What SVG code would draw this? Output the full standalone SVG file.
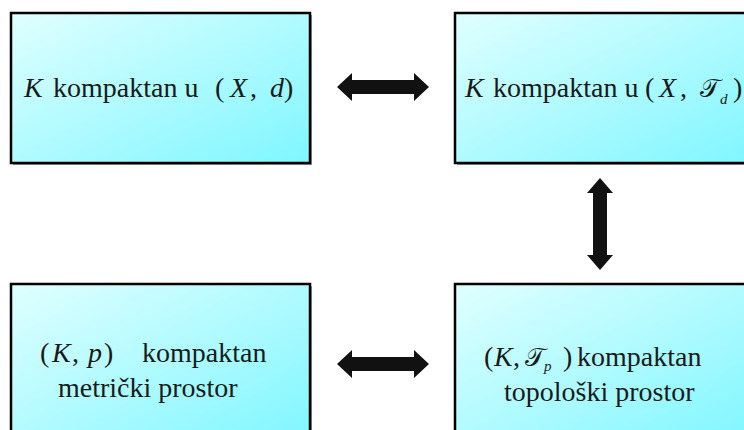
<svg xmlns="http://www.w3.org/2000/svg" width="744" height="430" viewBox="0 0 744 430">
<style>
.box{stroke:#000;stroke-width:2.5;fill:url(#g)}
.sh{fill:#9a9a9a}
text{font-family:"Liberation Serif","Times New Roman",serif;font-size:28px;fill:#1a1a1a}
.i{font-style:italic}
.sub{font-style:italic;font-size:15px}
.scr{font-family:"DejaVu Serif","Liberation Serif",serif;font-size:26px}
.arr{fill:#111}
</style>
<defs>
<linearGradient id="g" x1="0" y1="0" x2="1" y2="1">
<stop offset="0" stop-color="#e0ffff"/>
<stop offset="1" stop-color="#7ff6ff"/>
</linearGradient>
</defs>
<rect width="744" height="430" fill="#fff"/>
<g id="n1">
<rect class="sh" x="13" y="15" width="299" height="150"/>
<rect class="box" x="11" y="13" width="299" height="150"/>
<text y="97"><tspan x="24" class="i">K</tspan><tspan x="53">kompaktan u</tspan></text>
<text y="97"><tspan x="215">(</tspan><tspan class="i" x="230">X</tspan><tspan x="250">,</tspan><tspan class="i" x="270">d</tspan><tspan x="284">)</tspan></text>
</g>
<g id="n2">
<rect class="sh" x="457" y="15" width="300" height="150"/>
<rect class="box" x="455" y="13" width="300" height="150"/>
<text y="97"><tspan x="465" class="i">K</tspan><tspan x="493">kompaktan u</tspan></text>
<text y="97"><tspan x="645">(</tspan><tspan class="i" x="659">X</tspan><tspan x="680">,</tspan><tspan class="scr" x="700">𝒯</tspan></text>
<text y="104" class="sub" x="720">d</text>
<text y="97" x="733">)</text>
</g>
<g id="n3">
<rect class="sh" x="13" y="286" width="299" height="160"/>
<rect class="box" x="11" y="284" width="299" height="160"/>
<text y="362"><tspan x="40">(</tspan><tspan class="i" x="52">K</tspan><tspan x="72">,</tspan><tspan class="i" x="88">p</tspan><tspan x="104">)</tspan><tspan x="142">kompaktan</tspan></text>
<text y="397" x="58">metrički prostor</text>
</g>
<g id="n4">
<rect class="sh" x="457" y="286" width="300" height="160"/>
<rect class="box" x="455" y="284" width="300" height="160"/>
<text y="366"><tspan x="484">(</tspan><tspan class="i" x="494">K</tspan><tspan x="513">,</tspan><tspan class="scr" x="525">𝒯</tspan></text>
<text y="371" class="sub" x="544">p</text>
<text y="366"><tspan x="563">)</tspan><tspan x="577">kompaktan</tspan></text>
<text y="401" x="504">topološki prostor</text>
</g>
<g id="connectors">
<path class="arr" d="M337,87 L352,73 L352,80 L414,80 L414,73 L429,87 L414,101 L414,94 L352,94 L352,101 Z"/>
<path class="arr" d="M337,364 L352,350 L352,357 L414,357 L414,350 L429,364 L414,378 L414,371 L352,371 L352,378 Z"/>
<path class="arr" d="M600,178 L613,193 L607,193 L607,255 L613,255 L600,270 L587,255 L593,255 L593,193 L587,193 Z"/>
</g>
</svg>
